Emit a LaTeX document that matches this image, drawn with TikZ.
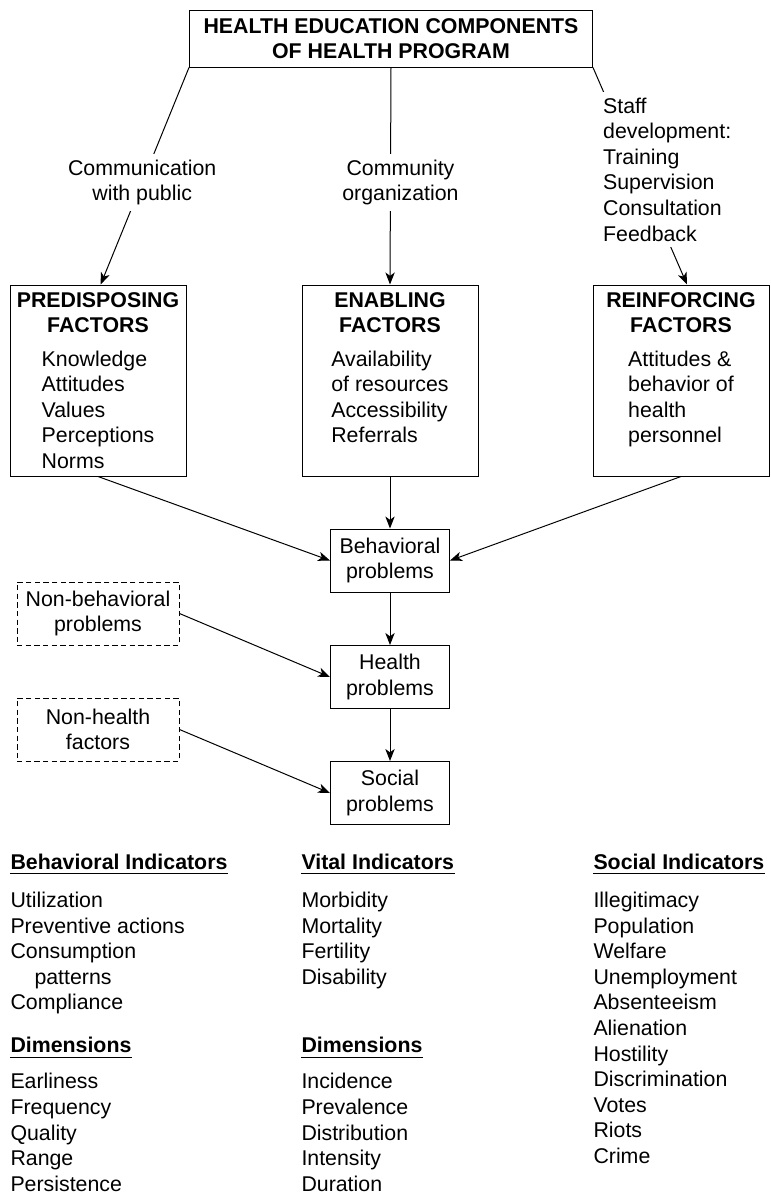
\documentclass[tikz,border=0pt]{standalone}
\usepackage{fontspec}
\setmainfont{Liberation Sans}
\usetikzlibrary{arrows.meta}

\newcommand{\factortext}[3]{\parbox[c][143.25pt][t]{132pt}{\centering\vspace*{5.5pt}%
  \textbf{#1}\\\textbf{#2}\\[5.8pt]\begin{tabular}[t]{@{}l@{}}#3\end{tabular}}}

\tikzset{
  box/.style = {draw, align=center, minimum width=89.25pt, minimum height=47.25pt, inner sep=2pt},
  other/.style = {box, dash pattern=on 4pt off 2.5pt, minimum width=121.5pt},
  factor/.style = {draw, inner sep=0pt},
  lbl/.style = {fill=white, inner sep=4pt, align=center},
  list/.style = {anchor=north west, inner sep=0pt, align=left},
  heading/.style = {list, font=\bfseries, text depth=3pt,
    append after command={(\tikzlastnode.south west) edge[-] (\tikzlastnode.south east)}}
}

\begin{document}
\fontsize{16pt}{19.2pt}\selectfont
\begin{tikzpicture}[x=0.75pt, y=-0.75pt, line width=0.75pt,
    >={Stealth[length=9pt, width=7pt, inset=2.5pt]}]
        \useasboundingbox (0,0) rectangle (771,1196);
        \node[draw, align=center, font=\bfseries, minimum width=302.25pt, minimum height=42.75pt]
            (top) at (391,38.5) {HEALTH EDUCATION COMPONENTS\\OF HEALTH PROGRAM};
        % factor boxes
        \node[factor](pre) at (98,380.5) {\factortext{PREDISPOSING}{FACTORS}{Knowledge\\Attitudes\\Values\\Perceptions\\Norms}};
        \node[factor](ena) at (390,380.5) {\factortext{ENABLING}{FACTORS}{Availability\\of resources\\Accessibility\\Referrals}};
        \node[factor](rei) at (681,380.5) {\factortext{REINFORCING}{FACTORS}{Attitudes \&\\behavior of\\health\\personnel}};
        % problems
        \node[box](beh) at (390,560.5) {Behavioral\\problems};
        \node[box](hea) at (390,677) {Health\\problems};
        \node[box](soc) at (390,793) {Social\\problems};
        \node[other](nonbeh) at (98,613.5) {Non-behavioral\\problems};
        \node[other](nonhea) at (98,729.5) {Non-health\\factors};

        \draw[->] (top.south west) -- node[lbl, pos=.53]{Communication\\with public} ([xshift=2pt]pre.north);
        \draw[->] (top.south) -- node[lbl, pos=.53, xshift=7.5pt]{Community\\organization} (ena.north);
        \draw[->] (top.south east) -- node[lbl, pos=.47, xshift=22.5pt, align=left]
            {Staff\\development:\\Training\\Supervision\\Consultation\\Feedback} ([xshift=4.5pt]rei.north);
        \path[->] (pre.south) edge (beh.west)
            (ena.south) edge (beh.north)
            (rei.south) edge (beh.east)
            (beh) edge (hea)
            (hea) edge (soc)
            (nonbeh.east) edge (hea.west)
            (nonhea.east) edge (soc.west);

        % indicators
        \node[heading](bind) at (10,853.5) {Behavioral Indicators};
        \node[list](bitems) at (10,891.5) {Utilization\\Preventive actions\\Consumption\\\hspace*{18pt}patterns\\Compliance};
        \node[heading](bdim) at (10,1037) {Dimensions};
        \node[list](bdims) at (10,1073) {Earliness\\Frequency\\Quality\\Range\\Persistence};
        \node[heading](vind) at (301,853.5) {Vital Indicators};
        \node[list](vitems) at (301,891.5) {Morbidity\\Mortality\\Fertility\\Disability};
        \node[heading](vdim) at (301,1037) {Dimensions};
        \node[list](vdims) at (301,1073) {Incidence\\Prevalence\\Distribution\\Intensity\\Duration};
        \node[heading](sind) at (593,853.5) {Social Indicators};
        \node[list](sitems) at (593,891.5) {Illegitimacy\\Population\\Welfare\\Unemployment\\Absenteeism\\Alienation\\Hostility\\Discrimination\\Votes\\Riots\\Crime};
    \end{tikzpicture}
\end{document}
